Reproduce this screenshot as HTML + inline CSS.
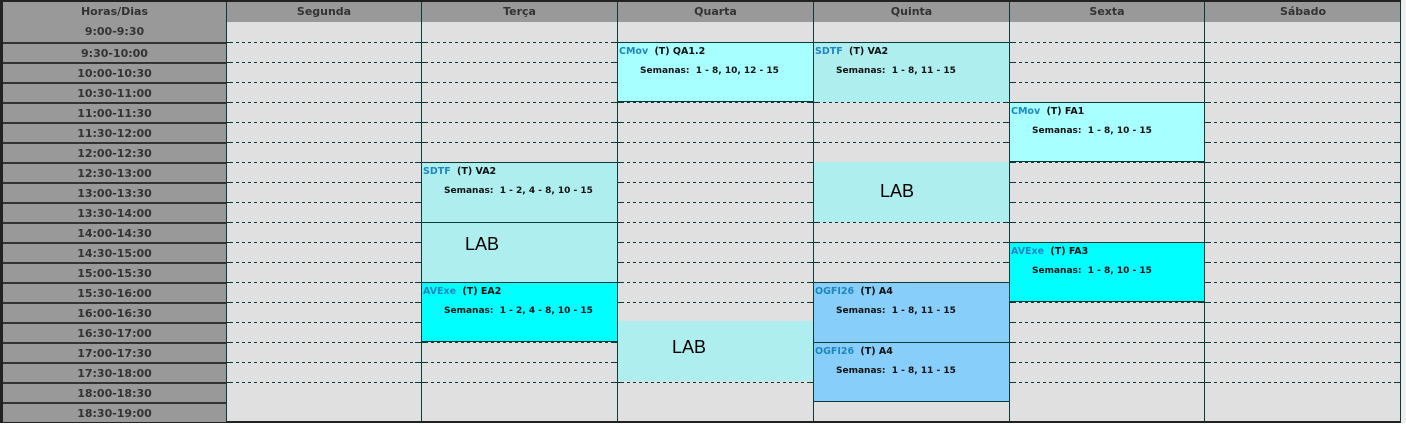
<!DOCTYPE html>
<html><head><meta charset="utf-8"><style>
*{margin:0;padding:0;box-sizing:border-box}
body{width:1406px;height:423px;background:#fff;position:relative;overflow:hidden;font-family:"DejaVu Sans","Liberation Sans",sans-serif}
.a{position:absolute}
.hd{position:absolute;top:2px;height:20px;background:#999;color:#333;font-weight:bold;font-size:11px;text-align:center;line-height:20px}
.tm{position:absolute;left:3px;width:223px;height:20px;background:#999;color:#333;font-weight:bold;font-size:11px;text-align:center;line-height:20px;border-top:2px solid #333}
.dl{position:absolute;height:1px;background:repeating-linear-gradient(90deg,#0a3a3a 0 3px,transparent 3px 6px)}
.sl{position:absolute;height:1px;background:#0a3a3a;width:6px}
.vl{position:absolute;top:2px;width:1px;height:420px;background:#0a3a3a}
.bk{position:absolute;border-top:1px solid #0a3a3a;font-weight:bold;font-size:9.5px;color:#111}
.bk .t{position:absolute;left:1px;top:3px;white-space:nowrap}
.bk .t span{color:#1f86c2;margin-right:3px}
.bk .s{position:absolute;left:22px;top:23px;white-space:nowrap;font-size:9px}
.lab{position:absolute;background:#afeeee;font-size:18px;color:#000;font-family:"Liberation Sans",sans-serif}
</style></head><body>
<div class="a" style="left:0;top:0;width:1403px;height:423px;background:#222"></div>
<div class="a" style="left:3px;top:2px;width:1398px;height:419px;background:#e0e0e0"></div>
<div class="a" style="left:1401px;top:0;width:5px;height:423px;background:#eee"></div>
<div class="hd" style="left:3px;width:223px">Horas/Dias</div>
<div class="hd" style="left:227px;width:194px">Segunda</div>
<div class="hd" style="left:422px;width:195px">Terça</div>
<div class="hd" style="left:618px;width:195px">Quarta</div>
<div class="hd" style="left:814px;width:195px">Quinta</div>
<div class="hd" style="left:1010px;width:194px">Sexta</div>
<div class="hd" style="left:1205px;width:196px">Sábado</div>
<div class="tm" style="top:22px;border-top:none">9:00-9:30</div>
<div class="tm" style="top:42px">9:30-10:00</div>
<div class="tm" style="top:62px">10:00-10:30</div>
<div class="tm" style="top:82px">10:30-11:00</div>
<div class="tm" style="top:102px">11:00-11:30</div>
<div class="tm" style="top:122px">11:30-12:00</div>
<div class="tm" style="top:142px">12:00-12:30</div>
<div class="tm" style="top:162px">12:30-13:00</div>
<div class="tm" style="top:182px">13:00-13:30</div>
<div class="tm" style="top:202px">13:30-14:00</div>
<div class="tm" style="top:222px">14:00-14:30</div>
<div class="tm" style="top:242px">14:30-15:00</div>
<div class="tm" style="top:262px">15:00-15:30</div>
<div class="tm" style="top:282px">15:30-16:00</div>
<div class="tm" style="top:302px">16:00-16:30</div>
<div class="tm" style="top:322px">16:30-17:00</div>
<div class="tm" style="top:342px">17:00-17:30</div>
<div class="tm" style="top:362px">17:30-18:00</div>
<div class="tm" style="top:382px">18:00-18:30</div>
<div class="tm" style="top:402px">18:30-19:00</div>
<div id="lines"></div>
<script>
var cols=[226,421,617,813,1009,1204,1400],h='';
for(var r=1;r<19;r++){var y=22+r*20;
for(var c=0;c<6;c++){var x0=cols[c],x1=cols[c+1];
h+='<div class="sl" style="left:'+(x0+1)+'px;top:'+y+'px"></div>';
h+='<div class="dl" style="left:'+(x0+10)+'px;top:'+y+'px;width:'+(x1-x0-18)+'px"></div>';
h+='<div class="sl" style="left:'+(x1-6)+'px;top:'+y+'px"></div>';}}
for(var c=0;c<7;c++)h+='<div class="vl" style="left:'+cols[c]+'px"></div>';
document.getElementById('lines').innerHTML=h;
</script>
<div class="bk" style="left:618px;top:42px;width:195px;height:60px;background:#a8ffff;border-bottom:1px solid #0a3a3a"><div class="t"><span>CMov</span> (T) QA1.2</div><div class="s">Semanas: &nbsp;1 - 8, 10, 12 - 15</div></div>
<div class="bk" style="left:814px;top:42px;width:195px;height:60px;background:#afeeee"><div class="t"><span>SDTF</span> (T) VA2</div><div class="s">Semanas: &nbsp;1 - 8, 11 - 15</div></div>
<div class="bk" style="left:1010px;top:102px;width:194px;height:60px;background:#a8ffff;border-bottom:1px solid #0a3a3a"><div class="t"><span>CMov</span> (T) FA1</div><div class="s">Semanas: &nbsp;1 - 8, 10 - 15</div></div>
<div class="bk" style="left:422px;top:162px;width:195px;height:60px;background:#afeeee"><div class="t"><span>SDTF</span> (T) VA2</div><div class="s">Semanas: &nbsp;1 - 2, 4 - 8, 10 - 15</div></div>
<div class="lab" style="left:814px;top:162px;width:195px;height:60px"><span class="a" style="left:66px;top:19px">LAB</span></div>
<div class="lab" style="left:422px;top:222px;width:195px;height:60px;border-top:1px solid #0a3a3a"><span class="a" style="left:43px;top:11px">LAB</span></div>
<div class="bk" style="left:1010px;top:242px;width:194px;height:60px;background:#00ffff;border-bottom:1px solid #0a3a3a"><div class="t"><span>AVExe</span> (T) FA3</div><div class="s">Semanas: &nbsp;1 - 8, 10 - 15</div></div>
<div class="bk" style="left:422px;top:282px;width:195px;height:60px;background:#00ffff;border-bottom:1px solid #0a3a3a"><div class="t"><span>AVExe</span> (T) EA2</div><div class="s">Semanas: &nbsp;1 - 2, 4 - 8, 10 - 15</div></div>
<div class="bk" style="left:814px;top:282px;width:195px;height:60px;background:#87cefa"><div class="t"><span>OGFI26</span> (T) A4</div><div class="s">Semanas: &nbsp;1 - 8, 11 - 15</div></div>
<div class="bk" style="left:814px;top:342px;width:195px;height:60px;background:#87cefa;border-bottom:1px solid #0a3a3a"><div class="t"><span>OGFI26</span> (T) A4</div><div class="s">Semanas: &nbsp;1 - 8, 11 - 15</div></div>
<div class="lab" style="left:618px;top:321px;width:195px;height:60px"><span class="a" style="left:54px;top:16px">LAB</span></div>
</body></html>
